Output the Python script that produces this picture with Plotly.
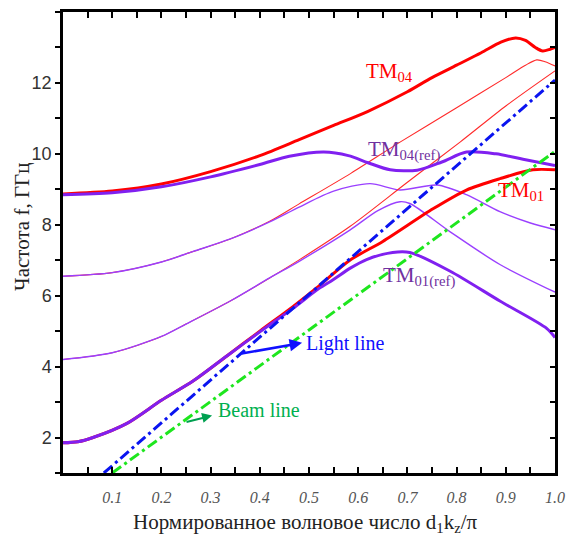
import plotly.graph_objects as go

# ---- data ----
x_tm04 = [0, 0.1, 0.2, 0.3, 0.4, 0.48, 0.55, 0.62, 0.7, 0.75, 0.8, 0.85, 0.89, 0.92, 0.94, 0.96, 0.975, 0.99, 1.0]
y_tm04 = [8.87, 8.95, 9.15, 9.5, 9.95, 10.4, 10.8, 11.2, 11.75, 12.15, 12.5, 12.85, 13.15, 13.27, 13.2, 13.0, 12.9, 12.95, 13.0]

x_tm04ref = [0, 0.1, 0.2, 0.3, 0.4, 0.46, 0.53, 0.58, 0.62, 0.665, 0.72, 0.77, 0.82, 0.88, 0.935, 1.0]
y_tm04ref = [8.85, 8.9, 9.07, 9.35, 9.7, 9.93, 10.05, 9.95, 9.75, 9.55, 9.54, 9.77, 10.05, 10.0, 9.85, 9.67]

x_a_red = [0, 0.1, 0.2, 0.265, 0.34, 0.42, 0.48, 0.585, 0.685, 0.8, 0.9, 0.94, 0.963, 0.98, 1.0]
y_a_red = [6.55, 6.65, 6.95, 7.25, 7.6, 8.1, 8.59, 9.45, 10.33, 11.3, 12.15, 12.5, 12.65, 12.6, 12.48]

x_a_pur = [0, 0.1, 0.2, 0.265, 0.34, 0.42, 0.48, 0.55, 0.624, 0.685, 0.76, 0.82, 0.888, 0.95, 1.0]
y_a_pur = [6.55, 6.65, 6.95, 7.25, 7.6, 8.08, 8.5, 8.95, 9.16, 8.98, 9.12, 8.85, 8.37, 8.05, 7.86]

x_b_red = [0, 0.1, 0.2, 0.25, 0.34, 0.42, 0.48, 0.583, 0.7, 0.807, 0.9, 1.0]
y_b_red = [4.2, 4.39, 4.85, 5.2, 5.85, 6.5, 7.01, 7.95, 9.2, 10.33, 11.35, 12.34]

x_b_pur = [0, 0.1, 0.2, 0.25, 0.34, 0.42, 0.48, 0.583, 0.64, 0.685, 0.705, 0.787, 0.888, 1.0]
y_b_pur = [4.2, 4.39, 4.85, 5.2, 5.85, 6.5, 6.97, 7.85, 8.4, 8.65, 8.6, 7.8, 6.88, 6.1]

x_tm01 = [0, 0.03, 0.061, 0.13, 0.2, 0.265, 0.333, 0.4, 0.468, 0.52, 0.583, 0.65, 0.752, 0.82, 0.888, 0.955, 1.0]
y_tm01 = [1.85, 1.88, 2.0, 2.4, 3.05, 3.6, 4.3, 5.0, 5.7, 6.27, 7.0, 7.53, 8.45, 8.98, 9.3, 9.55, 9.55]

x_tm01ref = [0, 0.03, 0.061, 0.13, 0.2, 0.265, 0.333, 0.4, 0.468, 0.52, 0.549, 0.583, 0.617, 0.67, 0.705, 0.787, 0.888, 0.983, 1.0]
y_tm01ref = [1.85, 1.88, 2.0, 2.4, 3.05, 3.6, 4.3, 4.98, 5.65, 6.2, 6.45, 6.77, 7.02, 7.22, 7.22, 6.69, 5.85, 5.08, 4.82]

x_light = [0.083, 1.0]
y_light = [1.0, 12.08]
x_beam = [0.1, 1.0]
y_beam = [1.0, 10.07]

x_tickvals = [0.1, 0.2, 0.3, 0.4, 0.5, 0.6, 0.7, 0.8, 0.9, 1.0]
x_ticktext = ["0.1", "0.2", "0.3", "0.4", "0.5", "0.6", "0.7", "0.8", "0.9", "1.0"]
y_tickvals = [2, 4, 6, 8, 10, 12]

RED = "#ff0000"
RED_THIN = "#ff2a2a"
PUR = "#8020f0"
PUR_THIN = "#9a40ff"
SERIF = "Liberation Serif"

fig = go.Figure()

def add(x, y, color, width, dash="solid"):
    fig.add_trace(go.Scatter(x=x, y=y, mode="lines", line=dict(color=color, width=width, dash=dash,
                                                                 shape="spline", smoothing=0.8),
                             showlegend=False, hoverinfo="skip"))

add(x_a_red, y_a_red, RED_THIN, 1.1)
add(x_a_pur, y_a_pur, PUR_THIN, 1.4)
add(x_b_red, y_b_red, RED_THIN, 1.1)
add(x_b_pur, y_b_pur, PUR_THIN, 1.4)
add(x_tm04, y_tm04, RED, 3)
add(x_tm04ref, y_tm04ref, PUR, 3)
add(x_tm01, y_tm01, RED, 3)
add(x_tm01ref, y_tm01ref, PUR, 3)

fig.add_trace(go.Scatter(x=x_light, y=y_light, mode="lines",
                         line=dict(color="#0a14f0", width=3, dash="11px,4px,3px,4px"),
                         showlegend=False, hoverinfo="skip"))
fig.add_trace(go.Scatter(x=x_beam, y=y_beam, mode="lines",
                         line=dict(color="#1ee61e", width=3, dash="11px,4px,3px,4px"),
                         showlegend=False, hoverinfo="skip"))
fig.add_trace(go.Scatter(x=[None], y=[None], yaxis="y2", showlegend=False, hoverinfo="skip"))

anns = []
def label(x, y, text, color, size=21):
    anns.append(dict(x=x, y=y, xref="x", yref="y", text=text, showarrow=False,
                     xanchor="left", yanchor="middle",
                     font=dict(family=SERIF, size=size, color=color)))

label(0.612, 12.3, "TM<sub>04</sub>", RED)
label(0.616, 10.1, "TM<sub>04(ref)</sub>", "#7030a0")
label(0.880, 8.95, "TM<sub>01</sub>", RED)
label(0.646, 6.55, "TM<sub>01(ref)</sub>", "#7030a0")
label(0.490, 4.64, "Light line", "#1010ff", 20)
label(0.311, 2.79, "Beam line", "#00b050", 20)

# arrows (head near the text, tail on the line)
anns.append(dict(x=0.486, y=4.67, ax=0.36, ay=4.36, xref="x", yref="y", axref="x", ayref="y",
                 text="", showarrow=True, arrowhead=2, arrowsize=1, arrowwidth=2.5, arrowcolor="#1010ff"))
anns.append(dict(x=0.303, y=2.62, ax=0.248, ay=2.43, xref="x", yref="y", axref="x", ayref="y",
                 text="", showarrow=True, arrowhead=2, arrowsize=1, arrowwidth=2, arrowcolor="#00a050"))

# axis titles
anns.append(dict(x=-0.083, y=0.534, xref="paper", yref="paper", text="Частота f, ГГц", showarrow=False,
                 textangle=-90, xanchor="center", yanchor="middle",
                 font=dict(family=SERIF, size=21, color="#222")))
anns.append(dict(x=0.492, y=-0.108, xref="paper", yref="paper",
                 text="Нормированное волновое число d<sub>1</sub>k<sub>z</sub>/π", showarrow=False,
                 xanchor="center", yanchor="middle",
                 font=dict(family=SERIF, size=21, color="#222")))

fig.update_layout(
    width=580, height=537,
    margin=dict(l=63, r=25, t=9, b=64),
    plot_bgcolor="white", paper_bgcolor="white",
    annotations=anns,
    xaxis=dict(range=[0, 1], tickvals=x_tickvals, ticktext=x_ticktext,
               ticks="inside", ticklen=6, tickwidth=1.5, tickcolor="black",
               minor=dict(dtick=0.05, tick0=0, ticks="inside", ticklen=6, tickwidth=1.5, tickcolor="black"),
               showline=True, linecolor="black", linewidth=2.5, mirror="ticks",
               showgrid=False, zeroline=False, ticklabelstandoff=8,
               tickfont=dict(family=SERIF, size=16, color="#555", style="italic")),
    yaxis=dict(range=[1, 14], tickvals=y_tickvals,
               ticks="outside", ticklen=5, tickwidth=1.5, tickcolor="black",
               minor=dict(dtick=1, tick0=0, ticks="outside", ticklen=5, tickwidth=1.5, tickcolor="black"),
               showline=True, linecolor="black", linewidth=2.5, mirror=True,
               showgrid=False, zeroline=False,
               tickfont=dict(family="Liberation Sans", size=18, color="#333")),
    yaxis2=dict(range=[1, 14], overlaying="y", side="right", tickvals=y_tickvals,
                ticks="inside", ticklen=5, tickwidth=1.5, tickcolor="black",
                minor=dict(dtick=1, tick0=0, ticks="inside", ticklen=5, tickwidth=1.5, tickcolor="black"),
                showticklabels=False, showline=False, showgrid=False, zeroline=False),
)

fig.write_html("out.html")
